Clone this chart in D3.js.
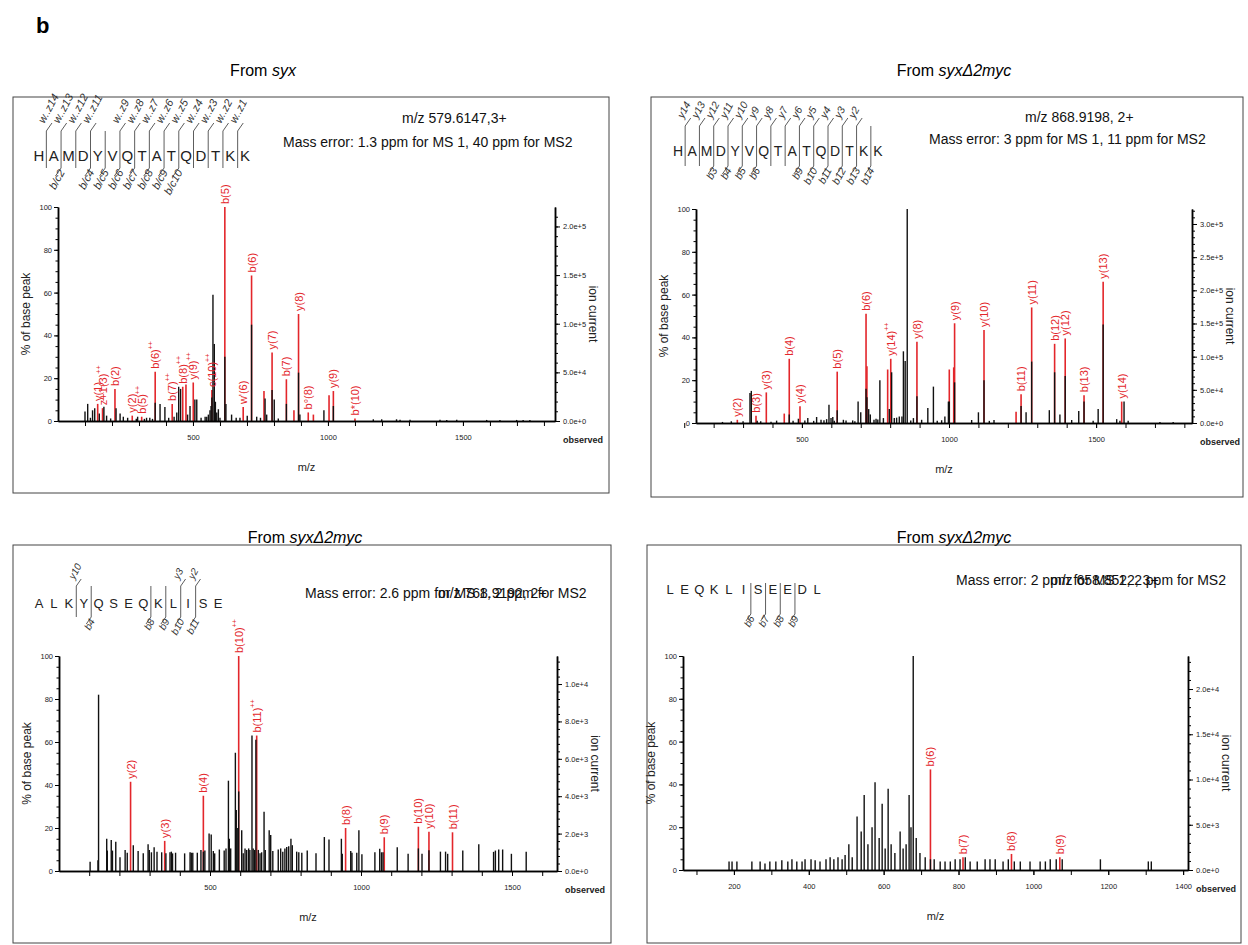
<!DOCTYPE html>
<html>
<head>
<meta charset="utf-8">
<script src="https://cdn.jsdelivr.net/npm/d3@7/dist/d3.min.js"></script>
<style>
body { margin: 0; background: #fff; }
svg text { font-family: "Liberation Sans", Arial, sans-serif; }
</style>
</head>
<body>
<svg id="svg" width="1248" height="945"></svg>
<script>
var RED = "#e3262b";

// ---------- panel 1 : From syx ----------
var p1Sequence = "HAMDYVQTATQDTKK";
var p1TopIons = [[1, "w..z14"], [2, "w..z13"], [3, "w..z12"], [4, "w..z11"], [6, "w..z9"], [7, "w..z8"], [8, "w..z7"],
    [9, "w..z6"], [10, "w..z5"], [11, "w..z4"], [12, "w..z3"], [13, "w..z2"], [14, "w..z1"]];
var p1BottomIons = [[2, "b/c2"], [4, "b/c4"], [5, "b/c5"], [6, "b/c6"], [7, "b/c7"], [8, "b/c8"], [9, "b/c9"], [10, "b/c10"]];
var p1Precursor = "m/z 579.6147,3+";
var p1MassError = "Mass error: 1.3 ppm for MS 1, 40 ppm for MS2";
// matched ions [m/z, % of base peak, label]
var p1Ions = [[147, 8, "y(1)"], [165, 6, "z+1(3)++"], [211, 15, "b(2)"], [275, 2.5, "y(2)"], [310, 2, "b(5)++"],
    [360, 23, "b(6)++"], [423, 8, "b(7)++"], [462, 16, "b(8)++"], [474, 17, ""], [501, 18, "y(9)++"],
    [570, 14.5, "c(10)++"], [618, 100, "b(5)"], [686, 6.5, "w'(6)"], [717, 68, "b(6)"], [763, 14, ""],
    [793, 32, "y(7)"], [846, 19.5, "b(7)"], [874, 5, ""], [891, 50, "y(8)"], [927, 4, "b°(8)"], [946, 3, ""],
    [1004, 12, ""], [1020, 14, "y(9)"], [1100, 1.2, "b*(10)"]];
// unmatched peaks [m/z, % of base peak]
var p1Peaks = [[100, 4.4], [110, 8], [120, 1.5], [128, 5], [136, 6], [153, 3.5], [170, 6.7], [180, 2.5], [195, 1.2],
    [215, 6], [230, 3.5], [242, 2], [258, 1.5], [290, 1], [295, 2], [320, 1], [328, 1.5], [340, 1.5], [350, 1],
    [360, 8.5], [378, 8], [396, 6.5], [410, 1.5], [430, 2], [440, 4], [447, 16], [454, 15], [480, 3], [489, 7],
    [507, 10], [514, 10], [530, 1.5], [545, 2], [551, 2], [557, 3], [563, 5], [567, 7], [570, 11], [574, 59],
    [579, 36], [583, 9], [588, 4], [594, 5.5], [600, 1.5], [618, 30], [622, 8], [643, 3], [660, 1.5], [674, 1.5],
    [701, 2.5], [717, 45], [736, 2], [750, 1.5], [767, 10.5], [773, 3], [793, 14.5], [801, 10], [816, 1.2],
    [846, 8], [891, 22.6], [896, 3], [985, 5], [1020, 7], [1168, 0.8], [1199, 0.8], [1254, 0.8], [1267, 0.6],
    [1304, 0.6], [1415, 0.6], [1440, 0.5], [1477, 0.6], [1588, 0.5], [1637, 0.5], [1699, 0.5], [1723, 0.5], [1748, 0.5]];
var p1XTicks = [500, 1000, 1500];
var p1RightTicks = [0, 5e4, 1e5, 1.5e5, 2e5];

// ---------- panel 2 : From syxΔ2myc ----------
var p2Sequence = "HAMDYVQTATQDTKK";
var p2TopIons = [[1, "y14"], [2, "y13"], [3, "y12"], [4, "y11"], [5, "y10"], [6, "y9"], [7, "y8"], [8, "y7"],
    [9, "y6"], [10, "y5"], [11, "y4"], [12, "y3"], [13, "y2"]];
var p2BottomIons = [[3, "b3"], [4, "b4"], [5, "b5"], [6, "b6"], [9, "b9"], [10, "b10"], [11, "b11"], [12, "b12"], [13, "b13"], [14, "b14"]];
var p2Precursor = "m/z 868.9198, 2+";
var p2MassError = "Mass error: 3 ppm for MS 1, 11 ppm for MS2";
var p2Ions = [[280.5, 1.5, "y(2)"], [344, 3.4, "b(3)"], [379, 14.3, "y(3)"], [440, 4.4, ""], [457, 30, "b(4)"],
    [493.5, 7.8, "y(4)"], [620, 24, "b(5)"], [718, 51, "b(6)"], [721, 26.5, ""], [791.5, 25, ""], [802, 30, "y(14)++"],
    [891, 38, "y(8)"], [1001, 25, ""], [1016, 26, ""], [1019, 46.6, "y(9)"], [1119, 43.5, "y(10)"], [1228, 5.3, ""],
    [1245, 13.4, "b(11)"], [1281, 54, "y(11)"], [1359, 37, "b(12)"], [1395, 39.5, "y(12)"], [1459, 13, "b(13)"],
    [1524, 66, "y(13)"], [1587, 10, "y(14)"]];
var p2Peaks = [[230, 0.5], [260, 0.8], [300, 0.8], [323.5, 14], [328, 15], [348, 1], [360, 0.8], [395, 0.6], [414, 1.1],
    [457, 4], [470, 1], [488, 2], [510, 1.2], [520, 2.3], [540, 1], [550, 2.8], [565, 1.5], [575, 1.3], [584, 1.8],
    [592, 8.5], [599, 2.3], [605, 2.8], [610, 1], [620, 6], [641, 1.5], [650, 1.2], [672.6, 1.2], [680, 0.8],
    [691, 10], [700, 5], [718, 16], [721, 12], [727, 6.5], [732.5, 4], [745, 1.5], [752, 2], [758, 1.6], [765, 20],
    [777, 2.3], [797, 6.5], [805, 23.7], [814, 2.3], [822, 2.5], [831, 3], [840, 3], [845, 33.5], [851, 29],
    [858, 100], [870, 1.2], [879, 2.3], [891, 12.5], [907, 1.5], [928, 7], [947, 17], [960, 1], [975, 1.3],
    [986, 3], [998, 10], [1001, 10], [1019, 19], [1077, 1.4], [1100, 5], [1119, 20], [1137, 1], [1153, 1.4],
    [1245, 8], [1262, 5], [1281, 28.7], [1341, 6], [1359, 23.7], [1377, 4], [1395, 22], [1417, 1.4], [1441, 5.6],
    [1459, 10], [1490, 1], [1507, 6.5], [1524, 46], [1570, 1.8], [1581, 1], [1595, 10], [1609, 1], [1717, 0.5], [1762, 0.5]];
var p2XTicks = [500, 1000, 1500];
var p2RightTicks = [0, 5e4, 1e5, 1.5e5, 2e5, 2.5e5, 3e5];

// ---------- panel 3 : From syxΔ2myc ----------
var p3Sequence = "ALKYQSEQKLISE";
var p3TopIons = [[3, "y10"], [10, "y3"], [11, "y2"]];
var p3BottomIons = [[4, "b4"], [8, "b8"], [9, "b9"], [10, "b10"], [11, "b11"]];
var p3Precursor = "m/z 768.9192, 2+";
var p3MassError = "Mass error: 2.6 ppm for MS 1, 2 ppm for MS2";
var p3Ions = [[237, 41.5, "y(2)"], [350, 14, "y(3)"], [478, 35, "b(4)"], [595, 100, "b(10)++"], [654.6, 63, "b(11)++"],
    [949, 20, "b(8)"], [1077, 15.7, "b(9)"], [1190, 20.6, "b(10)"], [1225, 18.3, "y(10)"], [1303, 18, "b(11)"]];
var p3Peaks = [[103, 4.3], [129, 5], [131, 82], [158, 15], [160, 9.5], [173, 14.4], [177, 9.5], [188, 13.6], [202, 6.4],
    [219, 9.8], [226, 8.5], [246, 12], [262, 9.3], [279, 8.2], [295, 12.4], [299, 9.8], [306, 8.7], [315, 11],
    [324.5, 9], [340, 8.7], [354, 8.2], [367.5, 8.7], [372, 9], [376, 8.2], [386, 8.5], [416, 8.2], [434, 8.7],
    [438, 8.5], [443, 8.5], [458, 8.5], [470, 9.8], [478, 9], [483, 9.5], [497, 17.5], [504, 17], [511, 9.3],
    [515.5, 8.2], [531, 10], [547, 9.5], [553, 10.5], [561, 42], [564, 15], [568.5, 10.5], [584, 55], [587, 28.4],
    [592, 20], [595, 37], [605, 19], [610, 8.2], [616, 10.5], [621.5, 9.8], [628, 10.5], [632, 9.8], [639, 63],
    [643, 10.5], [648, 9.8], [652, 61], [660, 9.8], [665.6, 8.2], [671, 8.7], [679, 27.6], [683, 9.8], [696, 19],
    [701, 16.7], [708, 9.3], [726, 10], [734, 10.5], [741, 9], [748, 10.5], [754, 11.2], [760.6, 11.5], [768, 15],
    [772.6, 12], [787, 9], [794, 8.7], [804, 8.5], [822, 9.5], [851, 8.2], [878.6, 15.8], [894, 14.6], [935, 15],
    [938, 8], [966, 9.3], [970, 8.5], [986, 8.5], [993, 19], [1003, 7.8], [1046, 8.7], [1062, 10.4], [1068, 8.7],
    [1073, 8.7], [1120, 11], [1156, 8], [1190, 10.5], [1202, 8], [1225, 9.6], [1263, 9], [1280, 9], [1287, 8],
    [1337, 9.5], [1390, 12.5], [1439, 8.9], [1445, 9.5], [1456, 10], [1469, 10], [1498, 8], [1547, 8.9]];
var p3XTicks = [500, 1000, 1500];
var p3RightTicks = [0, 2e3, 4e3, 6e3, 8e3, 1e4];

// ---------- panel 4 : From syxΔ2myc ----------
var p4Sequence = "LEQKLISEEDL";
var p4TopIons = [];
var p4BottomIons = [[6, "b6"], [7, "b7"], [8, "b8"], [9, "b9"]];
var p4Precursor = "m/z 658.8522, 3+";
var p4MassError = "Mass error: 2 ppm for MS 1, 2 ppm for MS2";
var p4Ions = [[725, 47, "b(6)"], [812, 6, "b(7)"], [941.5, 7.5, "b(8)"], [1070.6, 6, "b(9)"]];
var p4Peaks = [[187, 4], [195, 4], [208, 4], [248, 4], [270, 4], [283, 3], [296, 4], [312, 4], [328, 4.5], [344, 4],
    [355, 5], [368, 4], [382, 4], [390, 5], [406, 5], [417, 4.5], [430, 4], [446, 5], [457, 6], [467, 5], [478, 6],
    [489, 5], [497, 7], [507, 12], [516, 6], [529, 25], [540, 18], [548, 35], [558, 12], [569, 20], [577, 41],
    [588, 15], [596, 31], [604, 10], [612, 38], [620, 12], [630, 8], [644, 18], [652, 10], [660, 12], [668, 35],
    [673, 20], [679, 100], [687, 15], [697, 8], [711, 6], [725, 5], [735, 5], [751, 4], [764, 4], [778, 4], [791, 5],
    [804, 5], [818, 6], [831, 4], [850, 4], [871, 5], [884, 5], [898, 5], [919, 4], [933, 5], [949, 4], [965, 4],
    [991, 4], [1018, 4], [1032, 4], [1045, 5], [1061, 5], [1077, 5], [1179, 5], [1307, 4], [1315, 4]];
var p4XTicks = [200, 400, 600, 800, 1000, 1200, 1400];
var p4RightTicks = [0, 5e3, 1e4, 1.5e4, 2e4];

var svg = d3.select("#svg");

svg.append("text").attr("x", 36).attr("y", 33)
    .attr("font-size", 22).attr("font-weight", "bold").text("b");

function title(cx, cy, italicPart) {
    var t = svg.append("text").attr("x", cx).attr("y", cy)
        .attr("text-anchor", "middle").attr("font-size", 16);
    t.append("tspan").text("From ");
    t.append("tspan").attr("font-style", "italic").text(italicPart);
}
title(263, 76, "syx");
title(954, 76, "syxΔ2myc");
title(305, 543, "syxΔ2myc");
title(954, 543, "syxΔ2myc");

// peptide sequence with fragment brackets
function drawSequence(s) {
    var n = s.seq.length;
    var lx = d3.scaleLinear().domain([0, n - 1]).range([s.first, s.last]);
    var g = svg.append("g");
    g.selectAll(".aa").data(s.seq.split("")).enter().append("text")
        .attr("x", function (d, i) { return lx(i); })
        .attr("y", s.base)
        .attr("text-anchor", "middle")
        .attr("font-size", s.size)
        .attr("fill", "#222")
        .text(function (d) { return d; });

    var cuts = d3.union(s.top.map(function (d) { return d[0]; }), s.bottom.map(function (d) { return d[0]; }));
    var bx = function (k) { return lx(k - 0.5); };
    g.selectAll(".cut").data(Array.from(cuts)).enter().append("line")
        .attr("x1", bx).attr("x2", bx)
        .attr("y1", s.vTop).attr("y2", s.vBot)
        .attr("stroke", "#333").attr("stroke-width", 0.8);

    g.selectAll(".tslant").data(s.top).enter().append("line")
        .attr("x1", function (d) { return bx(d[0]); })
        .attr("x2", function (d) { return bx(d[0]) + s.slant * 0.7; })
        .attr("y1", s.vTop).attr("y2", s.vTop - s.slant)
        .attr("stroke", "#333").attr("stroke-width", 0.8);
    g.selectAll(".tlab").data(s.top).enter().append("text")
        .attr("transform", function (d) {
            return "translate(" + (bx(d[0]) - 2) + "," + (s.vTop - s.slant + 1) + ") rotate(-62)";
        })
        .attr("font-family", "Liberation Serif, serif").attr("font-style", "italic")
        .attr("font-size", s.labSize).attr("fill", "#333")
        .text(function (d) { return d[1]; });

    g.selectAll(".bslant").data(s.bottom).enter().append("line")
        .attr("x1", function (d) { return bx(d[0]); })
        .attr("x2", function (d) { return bx(d[0]) - s.slant * 0.7; })
        .attr("y1", s.vBot).attr("y2", s.vBot + s.slant)
        .attr("stroke", "#333").attr("stroke-width", 0.8);
    g.selectAll(".blab").data(s.bottom).enter().append("text")
        .attr("transform", function (d) {
            return "translate(" + (bx(d[0]) + 4) + "," + (s.vBot + 4) + ") rotate(-62)";
        })
        .attr("text-anchor", "end")
        .attr("font-family", "Liberation Serif, serif").attr("font-style", "italic")
        .attr("font-size", s.labSize).attr("fill", "#333")
        .text(function (d) { return d[1]; });
}

var fmtRight = d3.format(".1e");
var fmtMz = d3.format("d");

function styleAxis(sel) {
    sel.select(".domain").attr("stroke", "#000").attr("stroke-width", 1.5);
    sel.selectAll(".tick line").attr("stroke", "#000").attr("stroke-width", 1);
    sel.selectAll(".tick text")
        .attr("font-family", "DejaVu Sans Condensed, sans-serif")
        .attr("font-size", 7.5).attr("fill", "#222");
}

function drawPanel(p) {
    var g = svg.append("g");
    g.append("rect")
        .attr("x", p.frame[0]).attr("y", p.frame[1])
        .attr("width", p.frame[2]).attr("height", p.frame[3])
        .attr("fill", "none").attr("stroke", "#444").attr("stroke-width", 1);

    var x = d3.scaleLinear().domain(p.domain).range([p.left, p.right]);
    var y = d3.scaleLinear().domain([0, 100]).range([p.bottom, p.top]);
    var yr = d3.scaleLinear().domain([0, p.rightMax]).range([p.bottom, p.top]);

    // matched ions in red, unmatched peaks in black on top
    g.selectAll(".ion").data(p.ions).enter().append("line")
        .attr("x1", function (d) { return x(d[0]); })
        .attr("x2", function (d) { return x(d[0]); })
        .attr("y1", y(0))
        .attr("y2", function (d) { return y(d[1]); })
        .attr("stroke", RED).attr("stroke-width", 1.6);
    g.selectAll(".peak").data(p.peaks).enter().append("line")
        .attr("x1", function (d) { return x(d[0]); })
        .attr("x2", function (d) { return x(d[0]); })
        .attr("y1", y(0))
        .attr("y2", function (d) { return y(d[1]); })
        .attr("stroke", "#111").attr("stroke-width", 1.4);

    g.selectAll(".ionlab").data(p.ions.filter(function (d) { return d[2]; })).enter().append("text")
        .attr("transform", function (d) {
            return "translate(" + x(d[0]) + "," + (y(d[1]) - 3) + ") rotate(-90)";
        })
        .attr("dominant-baseline", "central")
        .attr("font-family", "DejaVu Sans, sans-serif")
        .attr("font-size", 11).attr("fill", RED)
        .each(function (d) {
            var t = d3.select(this), s = d[2], sup = /\+\+$/.test(s);
            t.append("tspan").text(sup ? s.slice(0, -2) : s);
            if (sup) t.append("tspan").attr("font-size", 7).attr("dy", "-0.7em").text("++");
        });

    // left axis: % of base peak
    g.append("g").attr("transform", "translate(" + p.left + ",0)")
        .call(d3.axisLeft(y).tickValues(d3.range(0, 101, 5)).tickSize(2.5).tickSizeOuter(0).tickFormat(""))
        .call(styleAxis);
    g.append("g").attr("transform", "translate(" + p.left + ",0)")
        .call(d3.axisLeft(y).tickValues([0, 20, 40, 60, 80, 100]).tickSize(4).tickSizeOuter(0).tickPadding(2))
        .call(styleAxis);

    // bottom axis: m/z
    var minor = d3.range(100, p.domain[1], 100);
    g.append("g").attr("transform", "translate(0," + p.bottom + ")")
        .call(d3.axisBottom(x).tickValues(minor).tickSize(5).tickSizeOuter(0).tickFormat(""))
        .call(styleAxis);
    g.append("g").attr("transform", "translate(0," + p.bottom + ")")
        .call(d3.axisBottom(x).tickValues(p.xTicks).tickSize(5).tickSizeOuter(0).tickPadding(9).tickFormat(fmtMz))
        .call(styleAxis);

    // right axis: ion current
    var step = p.rightTicks[1] / 5;
    g.append("g").attr("transform", "translate(" + p.right + ",0)")
        .call(d3.axisRight(yr).tickValues(d3.range(0, p.rightMax, step)).tickSize(3).tickSizeOuter(0).tickFormat(""))
        .call(styleAxis);
    g.append("g").attr("transform", "translate(" + p.right + ",0)")
        .call(d3.axisRight(yr).tickValues(p.rightTicks).tickSize(5).tickSizeOuter(0).tickPadding(3).tickFormat(fmtRight))
        .call(styleAxis);

    var mid = (p.top + p.bottom) / 2;
    g.append("text")
        .attr("transform", "translate(" + (p.left - 32) + "," + mid + ") rotate(-90)")
        .attr("text-anchor", "middle").attr("dominant-baseline", "central")
        .attr("font-family", "DejaVu Sans, sans-serif").attr("font-size", 12).attr("fill", "#222")
        .text("% of base peak");
    g.append("text")
        .attr("transform", "translate(" + (p.right + 38) + "," + mid + ") rotate(90)")
        .attr("text-anchor", "middle").attr("dominant-baseline", "central")
        .attr("font-family", "DejaVu Sans, sans-serif").attr("font-size", 12).attr("fill", "#222")
        .text("ion current");
    g.append("text")
        .attr("x", p.right + 8).attr("y", p.bottom + 22)
        .attr("font-family", "DejaVu Sans Condensed, sans-serif").attr("font-weight", "bold")
        .attr("font-size", 9).attr("fill", "#222")
        .text("observed");
    g.append("text")
        .attr("x", (p.left + p.right) / 2).attr("y", p.bottom + 50)
        .attr("text-anchor", "middle")
        .attr("font-family", "DejaVu Sans Condensed, sans-serif")
        .attr("font-size", 11).attr("fill", "#222")
        .text("m/z");

    // the two header lines overlap in the lower panels, as in the source figure
    g.append("text").attr("x", p.precursorPos[0]).attr("y", p.precursorPos[1])
        .attr("font-size", 14).attr("fill", "#111").text(p.precursor);
    g.append("text").attr("x", p.errorPos[0]).attr("y", p.errorPos[1])
        .attr("font-size", 14).attr("fill", "#111").text(p.massError);

    drawSequence(p.sequence);
}

drawPanel({
    frame: [13, 97, 596, 396], left: 58, right: 555, top: 207, bottom: 421,
    domain: [0, 1841], rightMax: 2.2e5, xTicks: p1XTicks, rightTicks: p1RightTicks,
    ions: p1Ions, peaks: p1Peaks,
    precursor: p1Precursor, precursorPos: [402, 123],
    massError: p1MassError, errorPos: [283, 147],
    sequence: { seq: p1Sequence, top: p1TopIons, bottom: p1BottomIons, first: 39, last: 245,
        base: 161, size: 15, vTop: 131, vBot: 168, slant: 8, labSize: 11 }
});

drawPanel({
    frame: [651, 97, 592, 400], left: 696, right: 1192, top: 209, bottom: 423,
    domain: [140, 1826], rightMax: 3.226e5, xTicks: p2XTicks, rightTicks: p2RightTicks,
    ions: p2Ions, peaks: p2Peaks,
    precursor: p2Precursor, precursorPos: [1025, 122],
    massError: p2MassError, errorPos: [929, 144],
    sequence: { seq: p2Sequence, top: p2TopIons, bottom: p2BottomIons, first: 678, last: 878,
        base: 156, size: 14, vTop: 126, vBot: 166, slant: 8, labSize: 10.5 }
});

drawPanel({
    frame: [13, 545, 598, 398], left: 59, right: 557, top: 656, bottom: 871,
    domain: [0, 1649], rightMax: 1.15e4, xTicks: p3XTicks, rightTicks: p3RightTicks,
    ions: p3Ions, peaks: p3Peaks,
    precursor: p3Precursor, precursorPos: [438, 598],
    massError: p3MassError, errorPos: [305, 598],
    sequence: { seq: p3Sequence, top: p3TopIons, bottom: p3BottomIons, first: 39, last: 218,
        base: 608, size: 13, vTop: 586, vBot: 617, slant: 7, labSize: 10 }
});

drawPanel({
    frame: [647, 545, 594, 398], left: 683, right: 1188, top: 656, bottom: 870,
    domain: [64, 1413], rightMax: 2.365e4, xTicks: p4XTicks, rightTicks: p4RightTicks,
    ions: p4Ions, peaks: p4Peaks,
    precursor: p4Precursor, precursorPos: [1050, 585],
    massError: p4MassError, errorPos: [956, 585],
    sequence: { seq: p4Sequence, top: p4TopIons, bottom: p4BottomIons, first: 670, last: 817,
        base: 594, size: 13, vTop: 583, vBot: 614, slant: 7, labSize: 10 }
});
</script>
</body>
</html>
